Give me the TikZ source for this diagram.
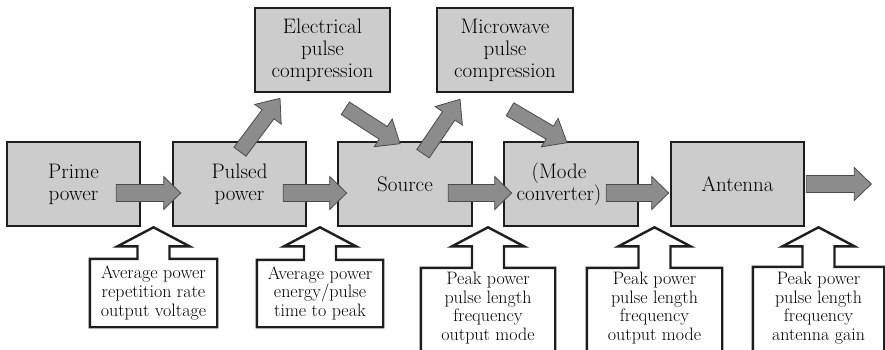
\documentclass[tikz,border=0pt]{standalone}
\usepackage{fontspec}
\setmainfont{Latin Modern Roman}
\usetikzlibrary{calc}
\definecolor{boxgray}{RGB}{204,204,204}
\definecolor{arrgray}{RGB}{140,140,140}
\definecolor{arredge}{RGB}{75,75,75}
\definecolor{ink}{RGB}{30,30,30}
\newcommand{\blockarrow}[5]{%
  \coordinate (hb) at ($(#2)!#5!(#1)$);
  \draw[blockarr] ($(#1)!#3!90:(#2)$) -- ($(hb)!#3!90:(#2)$) -- ($(hb)!#4!90:(#2)$) -- (#2)
    -- ($(hb)!#4!-90:(#2)$) -- ($(hb)!#3!-90:(#2)$) -- ($(#1)!#3!-90:(#2)$) -- cycle;}
\newcommand{\calloutshape}[2]{%
  \draw[callline] let \p1=(#1.north), \p2=(#2) in
    (#1.south west) -- (#1.north west) -- (\x1-16pt,\y1) -- (\x1-16pt,\y2-19pt)
    -- (\x1-36pt,\y2-19pt) -- (\x1,\y2) -- (\x1+36pt,\y2-19pt) -- (\x1+16pt,\y2-19pt)
    -- (\x1+16pt,\y1) -- (#1.north east) -- (#1.south east) -- cycle;}
\tikzset{
  mainbox/.style={draw=ink, fill=boxgray, line width=2.6pt, minimum width=133pt,
    minimum height=84pt, align=center, inner sep=0pt, font=\fontsize{21}{22}\selectfont},
  boxtext/.style={align=center, inner sep=0pt, font=\fontsize{21}{22}\selectfont},
  blockarr/.style={fill=arrgray, draw=arredge, line width=0.8pt, line join=miter},
  callline/.style={fill=white, draw=ink, line width=2.4pt, line join=miter},
  cbox/.style={inner sep=0pt, draw=none},
  ctext/.style={align=center, inner sep=0pt, font=\fontsize{18}{18.6}\selectfont}
}
\begin{document}
\begin{tikzpicture}[x=1pt,y=-1pt]
\fill[white] (0,0) rectangle (885,349);
\useasboundingbox (0,0) rectangle (885,349);
\clip (0,0) rectangle (885,349);

% main boxes
\node[mainbox] (prime) at (73.5,184) {Prime\\power};
\node[mainbox] (pulsed) at (239.5,184) {Pulsed\\power};
\node[mainbox, minimum width=134pt] (source) at (405,184) {Source};
\node[mainbox, minimum width=134pt] (mode) at (571,184) {};
\node[mainbox] (antenna) at (737.5,184) {Antenna};
\node[mainbox, minimum width=135pt] (elec) at (322.5,50) {Electrical\\pulse\\compression};
\node[mainbox, minimum width=136pt] (micro) at (505,50) {Microwave\\pulse\\compression};
\node[boxtext] (modetext) at ($(mode.center)+(-12,0)$) {(Mode\\converter)};

% horizontal block arrows
\coordinate (a1s) at ($(prime.east)+(-25,9)$);
\coordinate (a1e) at ($(pulsed.west)+(9,9)$);
\coordinate (a2s) at ($(pulsed.east)+(-24,9)$);
\coordinate (a2e) at ($(source.west)+(10,9)$);
\coordinate (a3s) at ($(source.east)+(-25,9)$);
\coordinate (a3e) at ($(mode.west)+(9,9)$);
\coordinate (a4s) at ($(mode.east)+(-33,9)$);
\coordinate (a4e) at ($(antenna.west)+(-1,9)$);
\coordinate (a5s) at ($(antenna.east)+(1,0)$);
\coordinate (a5e) at ($(antenna.east)+(66,0)$);
\blockarrow{a1s}{a1e}{8.5pt}{16.5pt}{17pt}
\blockarrow{a2s}{a2e}{8.5pt}{16.5pt}{17pt}
\blockarrow{a3s}{a3e}{8.5pt}{16.5pt}{17pt}
\blockarrow{a4s}{a4e}{8.5pt}{16.5pt}{17pt}
\blockarrow{a5s}{a5e}{8.5pt}{16.5pt}{17pt}

% diagonal block arrows
\coordinate (d1s) at ($(pulsed.north)+(0.5,11)$);
\coordinate (d1e) at ($(elec.south)+(-42.5,5)$);
\coordinate (d2s) at ($(elec.south east)+(-46,15)$);
\coordinate (d2e) at ($(source.north)+(-5,3)$);
\coordinate (d3s) at ($(source.north)+(18,13)$);
\coordinate (d3e) at ($(micro.south)+(-45,6)$);
\coordinate (d4s) at ($(micro.south)+(5,16)$);
\coordinate (d4e) at ($(mode.north)+(-4,2)$);
\blockarrow{d1s}{d1e}{7.5pt}{16.5pt}{20pt}
\blockarrow{d2s}{d2e}{7.5pt}{16.5pt}{20pt}
\blockarrow{d3s}{d3e}{7.5pt}{16.5pt}{20pt}
\blockarrow{d4s}{d4e}{7.5pt}{16.5pt}{20pt}

% callouts
\node[cbox, minimum width=127pt, minimum height=68pt] (c1) at (153.5,293) {};
\node[cbox, minimum width=126pt, minimum height=67pt] (c2) at (320,293.5) {};
\node[cbox, minimum width=134pt, minimum height=100pt] (c3) at (488,318) {};
\node[cbox, minimum width=135pt, minimum height=100pt] (c4) at (654.5,318) {};
\node[cbox, minimum width=131pt, minimum height=100pt] (c5) at (818.5,317) {};
\calloutshape{c1}{prime.south}
\calloutshape{c2}{pulsed.south}
\calloutshape{c3}{source.south}
\calloutshape{c4}{mode.south}
\calloutshape{c5}{antenna.south}
\node[ctext] (t1) at (153.5,293) {Average power\\repetition rate\\output voltage};
\node[ctext] (t2) at (320,293) {Average power\\energy/pulse\\time to peak};
\node[ctext] (t3) at (488,308) {Peak power\\pulse length\\frequency\\output mode};
\node[ctext] (t4) at (654.5,308) {Peak power\\pulse length\\frequency\\output mode};
\node[ctext] (t5) at (818.5,308) {Peak power\\pulse length\\frequency\\antenna gain};
\end{tikzpicture}
\end{document}
